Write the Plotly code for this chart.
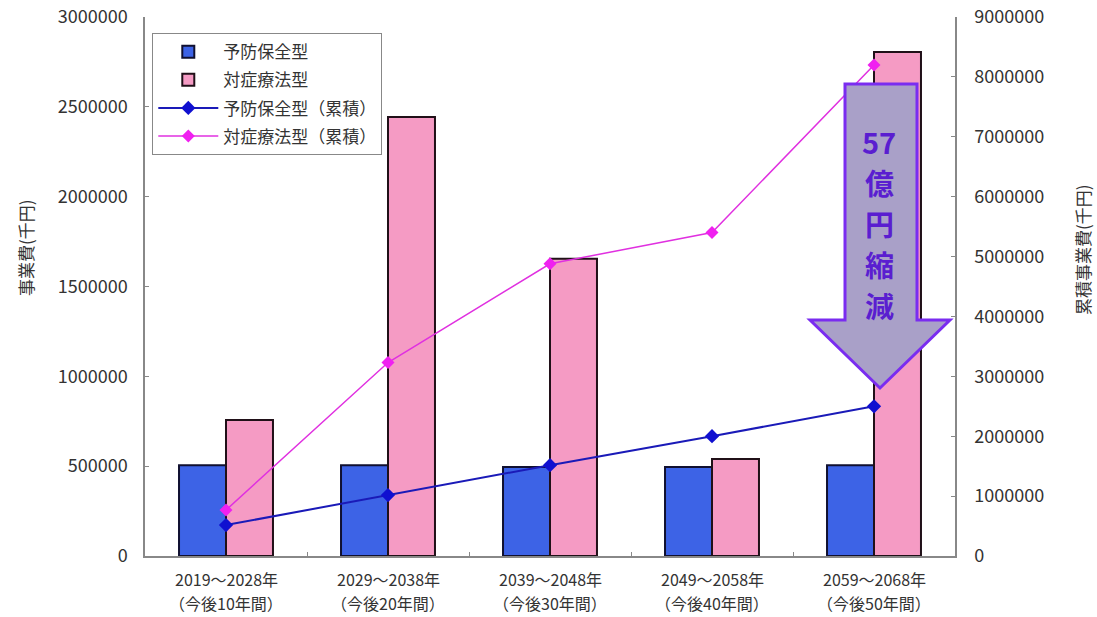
import plotly.graph_objects as go

period = ["2019～2028年", "2029～2038年", "2039～2048年", "2049～2058年", "2059～2068年"]
horizon = ["（今後10年間）", "（今後20年間）", "（今後30年間）", "（今後40年間）", "（今後50年間）"]
categories = [f"{a} {b}" for a, b in zip(period, horizon)]
yobo = [505000, 505000, 495000, 495000, 505000]
taisho = [757000, 2444000, 1655000, 540000, 2805000]
yobo_cum = [517000, 1017000, 1517000, 2000000, 2500000]
taisho_cum = [767000, 3230000, 4880000, 5400000, 8200000]
left_ticks = [0, 500000, 1000000, 1500000, 2000000, 2500000, 3000000]
right_ticks = [0, 1000000, 2000000, 3000000, 4000000, 5000000, 6000000, 7000000, 8000000, 9000000]
arrow_text = ["57", "億", "円", "縮", "減"]

FONT = "Noto Sans CJK JP"
TXT = "#333333"
fig = go.Figure()
fig.add_trace(go.Bar(x=categories, y=yobo, name="予防保全型", legendgroup="a",
                     marker=dict(color="#3d63e6", line=dict(color="#101030", width=2))))
fig.add_trace(go.Bar(x=categories, y=taisho, name="対症療法型", legendgroup="b",
                     marker=dict(color="#f59bc4", line=dict(color="#201018", width=2))))
fig.add_trace(go.Scatter(x=categories, y=yobo_cum, name="予防保全型（累積）", yaxis="y2", legendgroup="c",
                         mode="lines+markers", line=dict(color="#1a1ab8", width=2),
                         marker=dict(symbol="diamond", size=11, color="#1010d0")))
fig.add_trace(go.Scatter(x=categories, y=taisho_cum, name="対症療法型（累積）", yaxis="y2", legendgroup="d",
                         mode="lines+markers", line=dict(color="#e030e0", width=1.5),
                         marker=dict(symbol="diamond", size=10, color="#f020f0")))

def px(x, y):
    return (x - 145) / 810, (556 - y) / 539

pts = [(845, 84), (917, 84), (917, 320), (950, 320), (880, 388), (810, 320), (845, 320)]
path = "M " + " L ".join(f"{px(a,b)[0]:.4f},{px(a,b)[1]:.4f}" for a, b in pts) + " Z"
fig.add_shape(type="path", xref="paper", yref="paper", path=path,
              fillcolor="#a9a0c8", line=dict(color="#7a2cf0", width=3))
for i, t in enumerate(arrow_text):
    fig.add_annotation(xref="paper", yref="paper", x=px(879, 0)[0], y=px(0, 141 + 41 * i)[1],
                       xanchor="center", yanchor="middle",
                       text=f"<b>{t}</b>", showarrow=False,
                       font=dict(family=FONT, size=29, color="#5a1ed0"))

# two-line category labels
for c, a, b in zip(categories, period, horizon):
    fig.add_annotation(xref="x", yref="paper", x=c, y=px(0, 579)[1], text=a, showarrow=False,
                       xanchor="center", yanchor="middle", font=dict(size=16, color=TXT))
    fig.add_annotation(xref="x", yref="paper", x=c, y=px(0, 603)[1], text=b, showarrow=False,
                       xanchor="center", yanchor="middle", font=dict(size=16, color=TXT))

# axis titles
fig.add_annotation(xref="paper", yref="paper", x=px(25, 0)[0], y=px(0, 248)[1],
                   text="事業費(千円)", textangle=-90, showarrow=False,
                   xanchor="center", yanchor="middle", font=dict(size=17, color=TXT))
fig.add_annotation(xref="paper", yref="paper", x=px(1082, 0)[0], y=px(0, 250)[1],
                   text="累積事業費(千円)", textangle=-90, showarrow=False,
                   xanchor="center", yanchor="middle", font=dict(size=17, color=TXT))

fig.update_layout(
    width=1097, height=617,
    margin=dict(l=145, r=142, t=17, b=61, autoexpand=False),
    paper_bgcolor="white", plot_bgcolor="white",
    font=dict(family=FONT, color=TXT),
    barmode="group", bargap=0.42, bargroupgap=0,
    showlegend=True,
    legend=dict(x=0.009, y=0.97, xanchor="left", yanchor="top",
                bordercolor="#888888", borderwidth=1, bgcolor="white",
                font=dict(size=17, color=TXT), tracegroupgap=3, itemwidth=60),
    xaxis=dict(showline=True, linecolor="#888888", linewidth=1.5, mirror=False,
               showticklabels=False, ticks="inside", tickson="boundaries",
               ticklen=4, tickcolor="#888888", automargin=False),
    yaxis=dict(range=[0, 3000000], tickvals=left_ticks, ticktext=[str(v) for v in left_ticks],
               showgrid=False, zeroline=False, showline=True, linecolor="#888888", linewidth=1.5,
               ticks="inside", ticklen=4, tickcolor="#888888", ticklabelstandoff=12,
               tickfont=dict(size=18, color=TXT), automargin=False),
    yaxis2=dict(range=[0, 9000000], tickvals=right_ticks, ticktext=[str(v) for v in right_ticks],
                overlaying="y", side="right", showgrid=False, zeroline=False,
                showline=True, linecolor="#888888", linewidth=1.5,
                ticks="inside", ticklen=4, tickcolor="#888888", ticklabelstandoff=14,
                tickfont=dict(size=18, color=TXT), automargin=False),
)
fig.write_html("out.html", config={"displayModeBar": False},
               post_script="document.body.style.margin='0';document.body.style.overflow='hidden';")
